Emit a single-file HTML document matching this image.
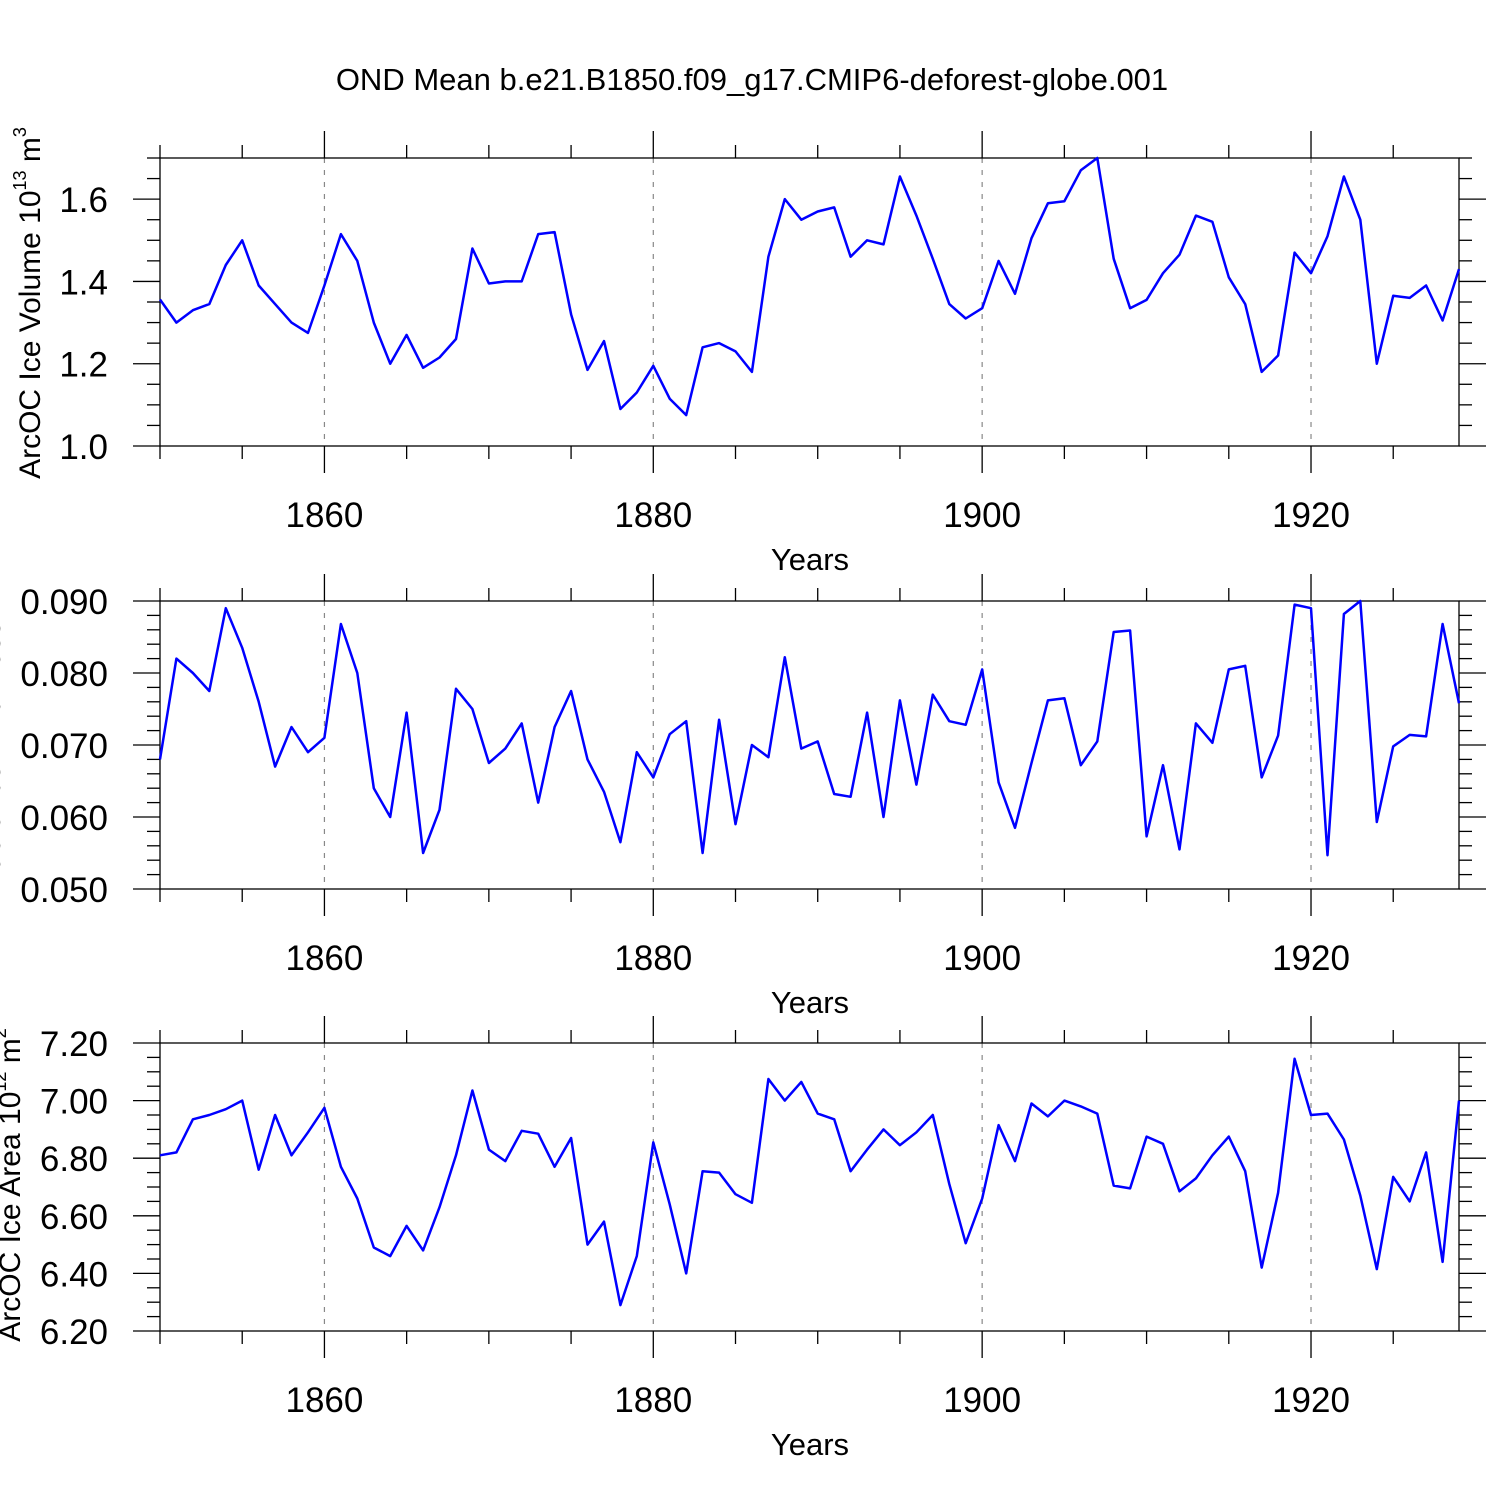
<!DOCTYPE html>
<html><head><meta charset="utf-8"><style>
html,body{margin:0;padding:0;background:#fff;}
svg{display:block;font-family:"Liberation Sans",sans-serif;}
</style></head><body>
<svg id="chart" width="1500" height="1500" xmlns="http://www.w3.org/2000/svg">
<text x="752" y="90" font-size="31" text-anchor="middle">OND Mean b.e21.B1850.f09_g17.CMIP6-deforest-globe.001</text>
</svg>
<script>
const years = [];
for (let y = 1850; y <= 1929; y++) years.push(y);
const volumeValues = [1.356,1.30,1.33,1.345,1.44,1.50,1.39,1.345,1.30,1.275,1.39,1.515,1.45,1.30,1.20,1.27,1.19,1.215,1.26,1.48,1.395,1.40,1.40,1.515,1.52,1.32,1.185,1.255,1.09,1.13,1.195,1.115,1.075,1.24,1.25,1.23,1.18,1.46,1.60,1.55,1.57,1.58,1.46,1.50,1.49,1.655,1.56,1.455,1.345,1.31,1.335,1.45,1.37,1.505,1.59,1.595,1.67,1.70,1.455,1.335,1.355,1.42,1.465,1.56,1.545,1.41,1.345,1.18,1.22,1.47,1.42,1.51,1.655,1.55,1.20,1.365,1.36,1.39,1.305,1.43];
const thicknessValues = [0.068,0.082,0.080,0.0775,0.089,0.0835,0.076,0.067,0.0725,0.069,0.071,0.0868,0.080,0.064,0.060,0.0745,0.055,0.061,0.0778,0.075,0.0675,0.0695,0.073,0.062,0.0725,0.0775,0.068,0.0635,0.0565,0.069,0.0655,0.0715,0.0733,0.055,0.0735,0.059,0.070,0.0683,0.0822,0.0695,0.0705,0.0632,0.0628,0.0745,0.060,0.0762,0.0645,0.077,0.0733,0.0728,0.0805,0.0648,0.0585,0.0675,0.0762,0.0765,0.0672,0.0705,0.0857,0.0859,0.0573,0.0672,0.0555,0.073,0.0703,0.0805,0.081,0.0655,0.0713,0.0895,0.089,0.0547,0.0882,0.090,0.0593,0.0698,0.0714,0.0712,0.0868,0.0758];
const areaValues = [6.81,6.82,6.935,6.95,6.97,7.00,6.76,6.95,6.81,6.89,6.975,6.77,6.66,6.49,6.46,6.565,6.48,6.63,6.81,7.035,6.83,6.79,6.895,6.885,6.77,6.87,6.50,6.58,6.29,6.46,6.855,6.64,6.40,6.755,6.75,6.675,6.645,7.075,7.00,7.065,6.955,6.935,6.755,6.83,6.90,6.845,6.89,6.95,6.71,6.505,6.66,6.915,6.79,6.99,6.945,7.00,6.98,6.955,6.705,6.695,6.875,6.85,6.685,6.73,6.81,6.875,6.755,6.42,6.68,7.145,6.95,6.955,6.865,6.67,6.415,6.735,6.65,6.82,6.44,7.00];
const xTickLabels = ["1860","1880","1900","1920"];
const volumeTickLabels = ["1.0","1.2","1.4","1.6"];
const thicknessTickLabels = ["0.050","0.060","0.070","0.080","0.090"];
const areaTickLabels = ["6.20","6.40","6.60","6.80","7.00","7.20"];

const NS = "http://www.w3.org/2000/svg";
const svg = document.getElementById('chart');
const X0 = 160, X1 = 1459, YR0 = 1850, YR1 = 1929;
function xScale(yr){ return X0 + (yr - YR0) * (X1 - X0) / (YR1 - YR0); }
function mk(tag, attrs, parent){ const e = document.createElementNS(NS, tag); for (const k in attrs) e.setAttribute(k, attrs[k]); (parent||svg).appendChild(e); return e; }

const panels = [
  {name:'volume', top:158, bot:446, min:1.0, max:1.7, major:0.2, minor:0.05, vals:volumeValues, labels:volumeTickLabels, lx:40, ly:303, ltxt:'ArcOC Ice Volume 10', sup:'13', unit:' m', sup2:'3'},
  {name:'thickness', top:601, bot:889, min:0.05, max:0.09, major:0.01, minor:0.002, vals:thicknessValues, labels:thicknessTickLabels, lx:0, ly:745, ltxt:'ArcOC Ice Thickness m', sup:'', unit:'', sup2:''},
  {name:'area', top:1043, bot:1331, min:6.2, max:7.2, major:0.2, minor:0.05, vals:areaValues, labels:areaTickLabels, lx:20, ly:1185, ltxt:'ArcOC Ice Area 10', sup:'12', unit:' m', sup2:'2'}
];

panels.forEach(p => {
  const g = mk('g', {});
  
  
  const yS = v => p.bot - (v - p.min) * (p.bot - p.top) / (p.max - p.min);
  xTickLabels.forEach(t => {
    const x = xScale(+t);
    const l = mk('line', {x1:x, x2:x, y1:p.top, y2:p.bot, stroke:'#888', 'stroke-width':1.2, 'stroke-dasharray':'5,7'}, g);
    
    
  });
  const fr = mk('rect', {x:X0, y:p.top, width:X1-X0, height:p.bot-p.top, fill:'none', stroke:'#000', 'stroke-width':1.3}, g);
  
  
  for (let yr = YR0; yr <= YR1; yr += 5) {
    const x = xScale(yr);
    const len = (yr % 20 === 0) ? 27 : 13;
    mk('line', {x1:x, x2:x, y1:p.top, y2:p.top-len, stroke:'#000', 'stroke-width':1.3}, g);
    mk('line', {x1:x, x2:x, y1:p.bot, y2:p.bot+len, stroke:'#000', 'stroke-width':1.3}, g);
  }
  xTickLabels.forEach(t => {
    const tx = mk('text', {x:xScale(+t), y:p.bot+81, 'font-size':35, 'text-anchor':'middle'}, g);
    tx.textContent = t;
    
    
  });
  const xt = mk('text', {x:810, y:p.bot+124, 'font-size':31, 'text-anchor':'middle'}, g);
  xt.textContent = 'Years';
  
  
  const nMinor = Math.round((p.max - p.min) / p.minor);
  const ratio = Math.round(p.major / p.minor);
  for (let i = 0; i <= nMinor; i++) {
    const v = p.min + i * p.minor;
    const y = yS(v);
    const len = (i % ratio === 0) ? 27 : 13;
    mk('line', {x1:X0, x2:X0-len, y1:y, y2:y, stroke:'#000', 'stroke-width':1.3}, g);
    mk('line', {x1:X1, x2:X1+len, y1:y, y2:y, stroke:'#000', 'stroke-width':1.3}, g);
  }
  p.labels.forEach(t => {
    const tx = mk('text', {x:108, y:yS(+t)+13, 'font-size':35, 'text-anchor':'end'}, g);
    tx.textContent = t;
    
    
  });
  const yt = mk('text', {x:0, y:0, 'font-size':30, 'text-anchor':'middle', transform:`translate(${p.lx},${p.ly}) rotate(-90)`}, g);
  
  
  yt.appendChild(document.createTextNode(p.ltxt));
  if (p.sup) {
    const s1 = mk('tspan', {'font-size':18, dy:-14}, yt); s1.textContent = p.sup;
    const u = mk('tspan', {'font-size':30, dy:14}, yt); u.textContent = p.unit;
    const s2 = mk('tspan', {'font-size':18, dy:-14}, yt); s2.textContent = p.sup2;
  }
  const pts = p.vals.map((v, i) => xScale(years[i]).toFixed(1) + ',' + yS(v).toFixed(1)).join(' ');
  const pl = mk('polyline', {points:pts, fill:'none', stroke:'#0000ff', 'stroke-width':2.5, 'stroke-linejoin':'round'}, g);
  
  
});
</script>
</body></html>
